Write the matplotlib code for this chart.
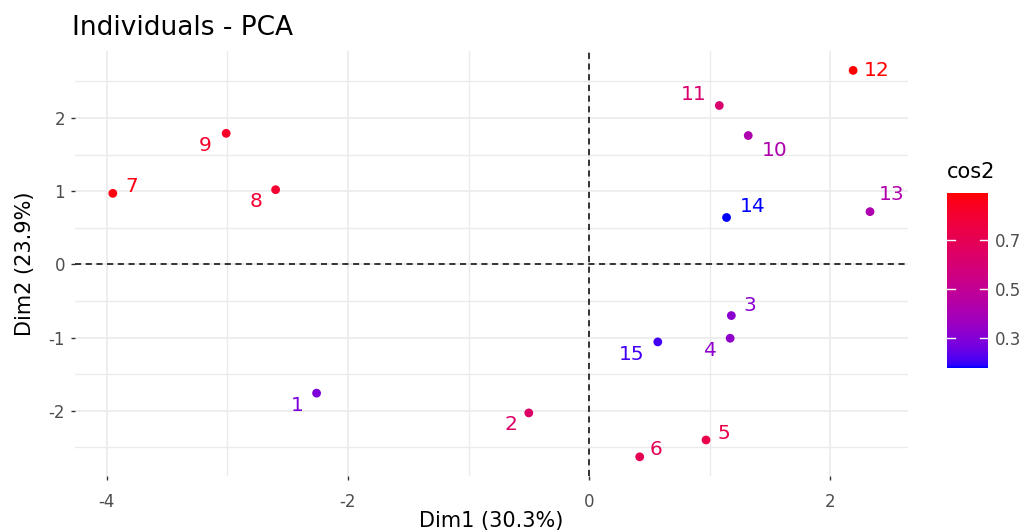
import numpy as np
import matplotlib
matplotlib.use("Agg")
from matplotlib import pyplot as plt
from matplotlib.colors import ListedColormap, Normalize
from matplotlib.ticker import MultipleLocator

plt.rcParams['font.family'] = ['DejaVu Sans']
plt.rcParams['axes.unicode_minus'] = False

# individual coordinates on the first two dimensions and their cos2
labels = ['1', '2', '3', '4', '5', '6', '7', '8', '9', '10', '11', '12', '13', '14', '15']
dim1 = [-2.26, -0.50, 1.18, 1.17, 0.97, 0.42, -3.95, -2.60, -3.01, 1.32, 1.08, 2.19, 2.33, 1.14, 0.57]
dim2 = [-1.76, -2.03, -0.70, -1.01, -2.40, -2.63, 0.97, 1.02, 1.79, 1.76, 2.17, 2.65, 0.72, 0.64, -1.06]
cos2 = [0.29, 0.64, 0.32, 0.33, 0.74, 0.70, 0.87, 0.80, 0.82, 0.42, 0.62, 0.89, 0.42, 0.18, 0.21]

# where each label sits relative to its point (pixels)
label_offsets = [(-19, -12), (-18, -12), (18, 10), (-20, -12), (18, 6), (16, 7), (19, 7),
                 (-20, -12), (-21, -12), (26, -15), (-26, 11), (24, 0), (22, 17), (26, 11), (-26, -13)]


# blue -> red gradient interpolated in Lab space, like ggplot's scale_colour_gradient
def srgb_to_lab(rgb):
    c = np.asarray(rgb, float)
    c = np.where(c > 0.04045, ((c + 0.055) / 1.055) ** 2.4, c / 12.92)
    m = np.array([[0.4124, 0.3576, 0.1805], [0.2126, 0.7152, 0.0722], [0.0193, 0.1192, 0.9505]])
    xyz = m @ c / np.array([0.95047, 1.0, 1.08883])
    f = np.where(xyz > 0.008856, np.cbrt(xyz), 7.787 * xyz + 16 / 116)
    return np.array([116 * f[1] - 16, 500 * (f[0] - f[1]), 200 * (f[1] - f[2])])


def lab_to_srgb(lab):
    L, a, b = lab
    fy = (L + 16) / 116
    f = np.array([fy + a / 500, fy, fy - b / 200])
    xyz = np.where(f ** 3 > 0.008856, f ** 3, (f - 16 / 116) / 7.787) * np.array([0.95047, 1.0, 1.08883])
    m = np.array([[3.2406, -1.5372, -0.4986], [-0.9689, 1.8758, 0.0415], [0.0557, -0.2040, 1.0570]])
    c = m @ xyz
    c = np.where(c > 0.0031308, 1.055 * np.abs(c) ** (1 / 2.4) - 0.055, 12.92 * c)
    return np.clip(c, 0, 1)


lab_lo, lab_hi = srgb_to_lab([0, 0, 1]), srgb_to_lab([1, 0, 0])
cmap = ListedColormap([lab_to_srgb(lab_lo + t * (lab_hi - lab_lo)) for t in np.linspace(0, 1, 256)])
norm = Normalize(vmin=min(cos2), vmax=max(cos2))

fig = plt.figure(figsize=(10.27, 5.32), dpi=100)
ax = fig.add_axes([0.073, 0.105, 0.811, 0.799])

ax.axhline(0, color='black', lw=1.1, ls=(0, (4, 3)), zorder=1)
ax.axvline(0, color='black', lw=1.1, ls=(0, (4, 3)), zorder=1)

ax.scatter(dim1, dim2, c=cos2, cmap=cmap, norm=norm, s=40, linewidths=0, zorder=3)
for lab, x, y, c, off in zip(labels, dim1, dim2, cos2, label_offsets):
    ax.annotate(lab, (x, y), xytext=off, textcoords='offset pixels', ha='center', va='center',
                fontsize=14.5, color=cmap(norm(c)), zorder=4)

xr = max(dim1) - min(dim1)
yr = max(dim2) - min(dim2)
ax.set_xlim(min(dim1) - 0.05 * xr, max(dim1) + 0.05 * xr)
ax.set_ylim(min(dim2) - 0.05 * yr, max(dim2) + 0.05 * yr)

ax.xaxis.set_major_locator(MultipleLocator(2))
ax.xaxis.set_minor_locator(MultipleLocator(1))
ax.yaxis.set_major_locator(MultipleLocator(1))
ax.yaxis.set_minor_locator(MultipleLocator(0.5))
ax.grid(which='major', color='#EBEBEB', lw=1.2)
ax.grid(which='minor', color='#EBEBEB', lw=1.0)
ax.set_axisbelow(True)
for s in ax.spines.values():
    s.set_visible(False)
ax.tick_params(which='major', length=3, width=1, color='#333333', labelcolor='#4D4D4D', labelsize=12)
ax.tick_params(axis='x', pad=9)
ax.tick_params(axis='y', pad=4)
ax.tick_params(which='minor', length=0)

ax.set_xlabel('Dim1 (30.3%)', fontsize=15, labelpad=0)
ax.set_ylabel('Dim2 (23.9%)', fontsize=15, labelpad=10)
fig.text(0.070, 0.947, 'Individuals - PCA', fontsize=19, ha='left', va='center')

# colour bar for cos2
cax = fig.add_axes([0.922, 0.308, 0.040, 0.330])
sm = plt.cm.ScalarMappable(norm=norm, cmap=cmap)
cb = fig.colorbar(sm, cax=cax, ticks=[0.3, 0.5, 0.7])
cb.outline.set_visible(False)
cb.ax.tick_params(length=0, labelsize=12, labelcolor='#4D4D4D', pad=5)
cb.ax.set_yticklabels(['0.3', '0.5', '0.7'])
for t in [0.3, 0.5, 0.7]:
    cb.ax.plot([0, 0.2], [t, t], color='white', lw=1, transform=cb.ax.get_yaxis_transform())
    cb.ax.plot([0.8, 1], [t, t], color='white', lw=1, transform=cb.ax.get_yaxis_transform())
fig.text(0.922, 0.677, 'cos2', fontsize=15, ha='left', va='center')

fig.savefig('out.png', dpi=100)
